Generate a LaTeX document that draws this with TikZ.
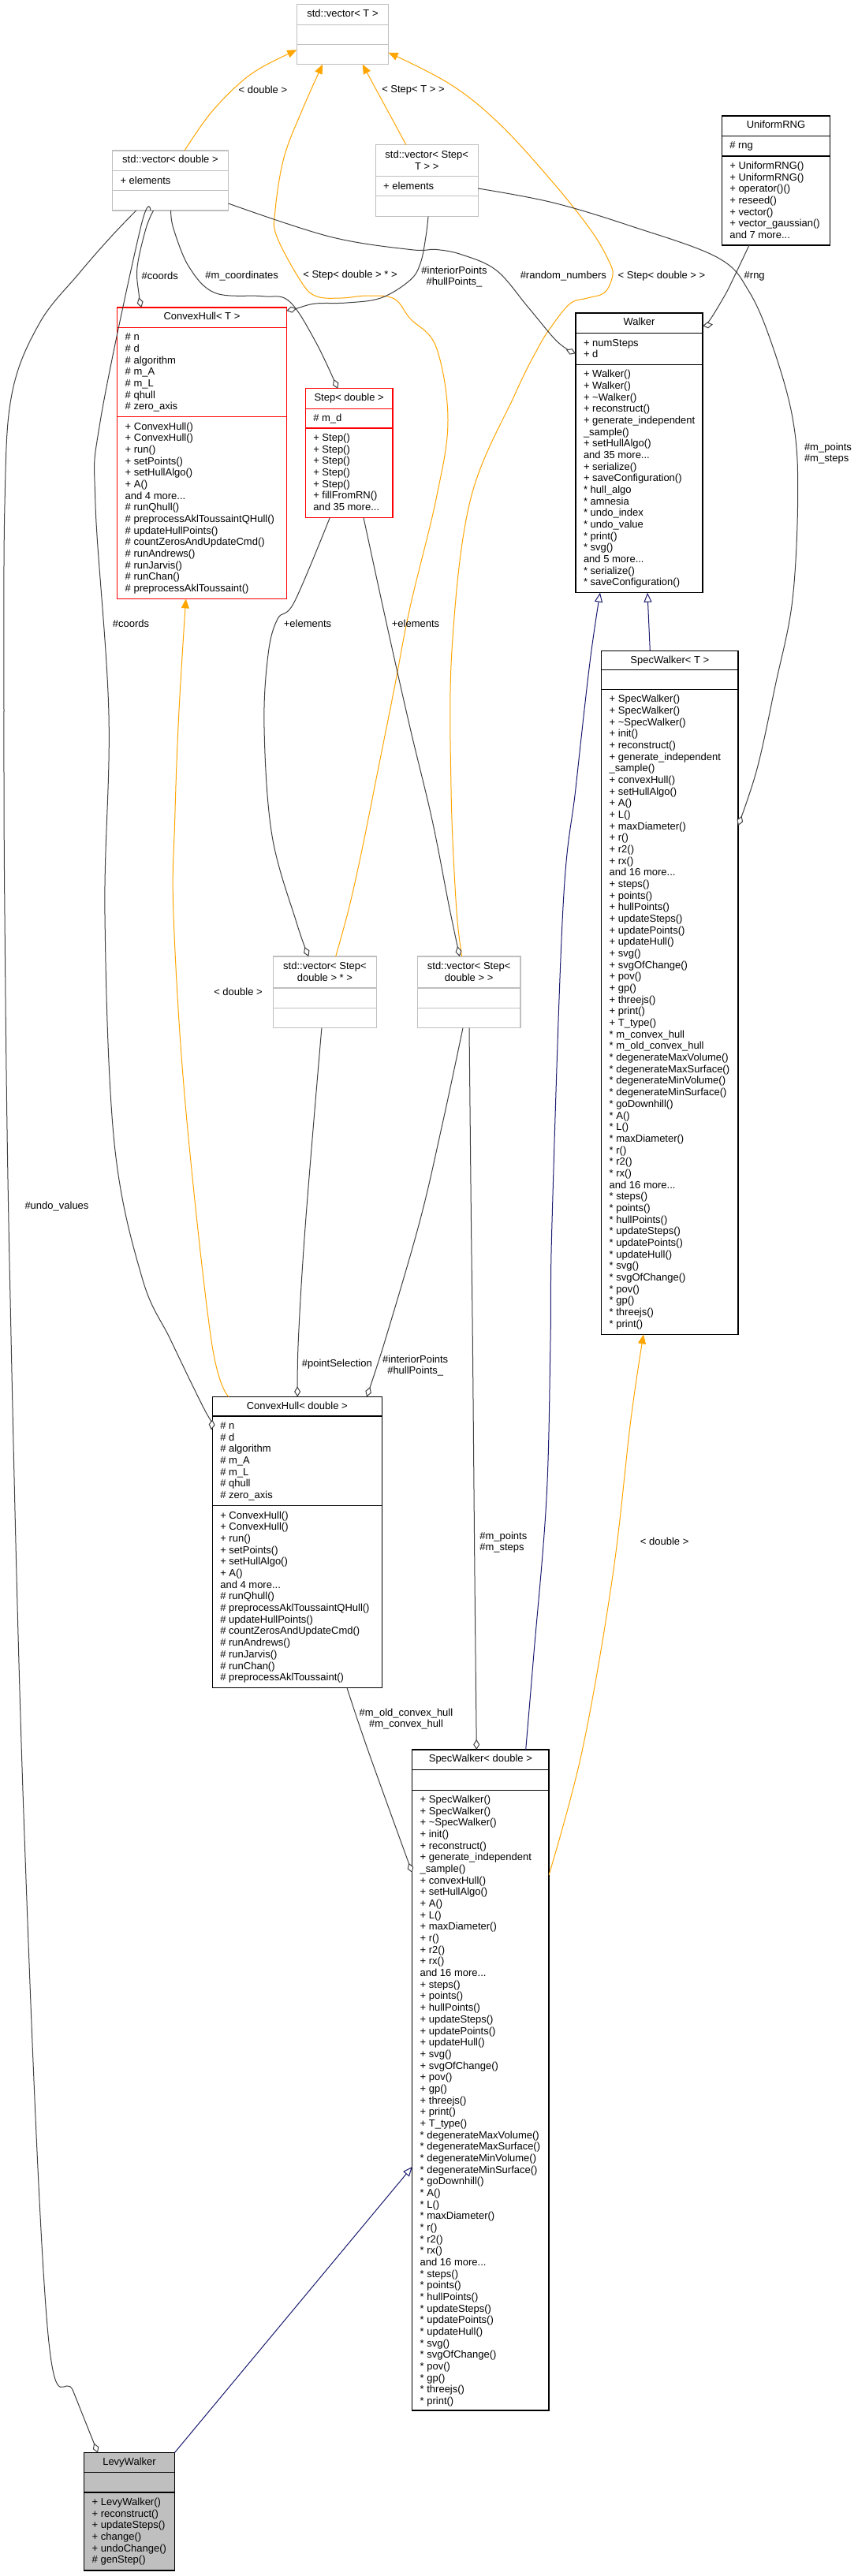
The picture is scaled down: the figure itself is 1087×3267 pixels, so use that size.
\documentclass[tikz,border=0pt]{standalone}
\usepackage{fontspec}
\setmainfont{Liberation Sans}
\usetikzlibrary{arrows.meta,calc}
\definecolor{clsgray}{HTML}{BFBFBF}
\definecolor{edgegray}{HTML}{404040}
\definecolor{inhblue}{HTML}{191970}
\definecolor{tplorange}{HTML}{FFA500}
\definecolor{clsred}{HTML}{FF0000}
% name, style, x1, y1, x2, y2, sepA, sepB
\newcommand\mkcls[8]{%
  \node[#2,anchor=north west,minimum width=#5pt-#3pt,minimum height=#6pt-#4pt] (#1) at (#3,#4) {};
  \draw[#2,fill=none] ($(#1.north west)+(0,#7)$) -- ($(#1.north east)+(0,#7)$);
  \draw[#2,fill=none] ($(#1.north west)+(0,#8)$) -- ($(#1.north east)+(0,#8)$);
  \coordinate (#1-a) at ($(#1.north west)+(10,#7+6.2)$);
  \coordinate (#1-m) at ($(#1.north west)+(10,#8+6.2)$);
  \coordinate (#1-h) at ($(#1.north)+(0,5.7)$);
}
\begin{document}
\begin{tikzpicture}[x=1pt,y=-1pt,
  boxk/.style={draw=black,line width=1.1pt,fill=white,inner sep=0pt,outer sep=0pt},
  boxg/.style={boxk,draw=clsgray},
  boxr/.style={boxk,draw=clsred},
  boxl/.style={boxk,fill=clsgray},
  txt/.style={font=\fontsize{13}{14.67}\selectfont,inner sep=0pt,outer sep=0pt},
  ttl/.style={txt,anchor=north,align=center},
  cell/.style={txt,anchor=north west,align=left},
  usage/.style={draw=edgegray,line width=1pt,-{Diamond[fill=white,length=13pt,width=8pt]}},
  inh/.style={draw=inhblue,line width=1pt,-{Triangle[fill=white,length=12pt,width=10pt]}},
  tpl/.style={draw=tplorange,line width=1pt,-{Triangle[length=12pt,width=10pt]}}]
\useasboundingbox (0,0) rectangle (1087,3267);
\fill[white] (0,0) rectangle (1087,3267);

% ---------------- classes ----------------
\mkcls{vecT}{boxg}{376.3}{5.7}{492.6}{81.7}{25.6}{51}
\node[ttl] (vecT-tt) at (vecT-h) {\strut std::vector< T >};

\mkcls{vecD}{boxg}{142.5}{191}{289.4}{267}{25.7}{50.7}
\node[ttl] (vecD-tt) at (vecD-h) {\strut std::vector< double >};
\node[cell] (vecD-at) at (vecD-a) {\strut + elements};

\mkcls{vecST}{boxg}{476.2}{183.7}{606.2}{274.7}{40}{65}
\node[ttl] (vecST-tt) at ($(vecST-h)+(0,1)$) {\strut std::vector< Step<\\T > >};
\node[cell] (vecST-at) at (vecST-a) {\strut + elements};

\mkcls{rng}{boxk}{915.3}{147}{1052.7}{311}{25.3}{51}
\node[ttl] (rng-tt) at (rng-h) {\strut UniformRNG};
\node[cell] (rng-at) at (rng-a) {\strut \# rng};
\node[cell] (rng-mt) at (rng-m) {\strut + UniformRNG()\\+ UniformRNG()\\+ operator()()\\+ reseed()\\+ vector()\\+ vector\_gaussian()\\and 7 more...};

\mkcls{chT}{boxr}{148.7}{390}{363.3}{759.4}{25.3}{138.8}
\node[ttl] (chT-tt) at (chT-h) {\strut ConvexHull< T >};
\node[cell] (chT-at) at (chT-a) {\strut \# n\\\# d\\\# algorithm\\\# m\_A\\\# m\_L\\\# qhull\\\# zero\_axis};
\node[cell] (chT-mt) at (chT-m) {\strut + ConvexHull()\\+ ConvexHull()\\+ run()\\+ setPoints()\\+ setHullAlgo()\\+ A()\\and 4 more...\\\# runQhull()\\\# preprocessAklToussaintQHull()\\\# updateHullPoints()\\\# countZerosAndUpdateCmd()\\\# runAndrews()\\\# runJarvis()\\\# runChan()\\\# preprocessAklToussaint()};

\mkcls{stepD}{boxr}{387.3}{492.9}{498}{656.5}{25.3}{50.1}
\node[ttl] (stepD-tt) at (stepD-h) {\strut Step< double >};
\node[cell] (stepD-at) at (stepD-a) {\strut \# m\_d};
\node[cell] (stepD-mt) at (stepD-m) {\strut + Step()\\+ Step()\\+ Step()\\+ Step()\\+ Step()\\+ fillFromRN()\\and 35 more...};

\mkcls{walker}{boxk}{730}{397}{891}{751.7}{25.7}{65.3}
\node[ttl] (walker-tt) at (walker-h) {\strut Walker};
\node[cell] (walker-at) at (walker-a) {\strut + numSteps\\+ d};
\node[cell] (walker-mt) at (walker-m) {\strut + Walker()\\+ Walker()\\+ \textasciitilde Walker()\\+ reconstruct()\\+ generate\_independent\\\_sample()\\+ setHullAlgo()\\and 35 more...\\+ serialize()\\+ saveConfiguration()\\{*} hull\_algo\\{*} amnesia\\{*} undo\_index\\{*} undo\_value\\{*} print()\\{*} svg()\\and 5 more...\\{*} serialize()\\{*} saveConfiguration()};

\mkcls{swT}{boxk}{762.7}{825.3}{936}{1692.3}{24.5}{49.1}
\node[ttl] (swT-tt) at (swT-h) {\strut SpecWalker< T >};
\node[cell] (swT-mt) at (swT-m) {\strut + SpecWalker()\\+ SpecWalker()\\+ \textasciitilde SpecWalker()\\+ init()\\+ reconstruct()\\+ generate\_independent\\\_sample()\\+ convexHull()\\+ setHullAlgo()\\+ A()\\+ L()\\+ maxDiameter()\\+ r()\\+ r2()\\+ rx()\\and 16 more...\\+ steps()\\+ points()\\+ hullPoints()\\+ updateSteps()\\+ updatePoints()\\+ updateHull()\\+ svg()\\+ svgOfChange()\\+ pov()\\+ gp()\\+ threejs()\\+ print()\\+ T\_type()\\{*} m\_convex\_hull\\{*} m\_old\_convex\_hull\\{*} degenerateMaxVolume()\\{*} degenerateMaxSurface()\\{*} degenerateMinVolume()\\{*} degenerateMinSurface()\\{*} goDownhill()\\{*} A()\\{*} L()\\{*} maxDiameter()\\{*} r()\\{*} r2()\\{*} rx()\\and 16 more...\\{*} steps()\\{*} points()\\{*} hullPoints()\\{*} updateSteps()\\{*} updatePoints()\\{*} updateHull()\\{*} svg()\\{*} svgOfChange()\\{*} pov()\\{*} gp()\\{*} threejs()\\{*} print()};

\mkcls{vecSDp}{boxg}{346.8}{1213}{477.1}{1303.7}{40}{65.3}
\node[ttl] (vecSDp-tt) at ($(vecSDp-h)+(0,1)$) {\strut std::vector< Step<\\double > * >};

\mkcls{vecSD}{boxg}{529.3}{1213}{660}{1303.7}{40}{65.3}
\node[ttl] (vecSD-tt) at ($(vecSD-h)+(0,1)$) {\strut std::vector< Step<\\double > >};

\mkcls{chD}{boxk}{269.3}{1771.4}{484.3}{2140.6}{24.6}{138.4}
\node[ttl] (chD-tt) at (chD-h) {\strut ConvexHull< double >};
\node[cell] (chD-at) at (chD-a) {\strut \# n\\\# d\\\# algorithm\\\# m\_A\\\# m\_L\\\# qhull\\\# zero\_axis};
\node[cell] (chD-mt) at (chD-m) {\strut + ConvexHull()\\+ ConvexHull()\\+ run()\\+ setPoints()\\+ setHullAlgo()\\+ A()\\and 4 more...\\\# runQhull()\\\# preprocessAklToussaintQHull()\\\# updateHullPoints()\\\# countZerosAndUpdateCmd()\\\# runAndrews()\\\# runJarvis()\\\# runChan()\\\# preprocessAklToussaint()};

\mkcls{swD}{boxk}{522.7}{2219}{696}{3057}{25.9}{51.1}
\node[ttl] (swD-tt) at (swD-h) {\strut SpecWalker< double >};
\node[cell] (swD-mt) at (swD-m) {\strut + SpecWalker()\\+ SpecWalker()\\+ \textasciitilde SpecWalker()\\+ init()\\+ reconstruct()\\+ generate\_independent\\\_sample()\\+ convexHull()\\+ setHullAlgo()\\+ A()\\+ L()\\+ maxDiameter()\\+ r()\\+ r2()\\+ rx()\\and 16 more...\\+ steps()\\+ points()\\+ hullPoints()\\+ updateSteps()\\+ updatePoints()\\+ updateHull()\\+ svg()\\+ svgOfChange()\\+ pov()\\+ gp()\\+ threejs()\\+ print()\\+ T\_type()\\{*} degenerateMaxVolume()\\{*} degenerateMaxSurface()\\{*} degenerateMinVolume()\\{*} degenerateMinSurface()\\{*} goDownhill()\\{*} A()\\{*} L()\\{*} maxDiameter()\\{*} r()\\{*} r2()\\{*} rx()\\and 16 more...\\{*} steps()\\{*} points()\\{*} hullPoints()\\{*} updateSteps()\\{*} updatePoints()\\{*} updateHull()\\{*} svg()\\{*} svgOfChange()\\{*} pov()\\{*} gp()\\{*} threejs()\\{*} print()};

\mkcls{levy}{boxl}{106.7}{3110.7}{221.3}{3260}{24.6}{50.3}
\node[ttl] (levy-tt) at (levy-h) {\strut LevyWalker};
\node[cell] (levy-mt) at (levy-m) {\strut + LevyWalker()\\+ reconstruct()\\+ updateSteps()\\+ change()\\+ undoChange()\\\# genStep()};

% ---------------- ports ----------------
\coordinate (vecD-top) at ($(vecD.north west)+(91.5,0)$);
\coordinate (vecD-r)   at ($(vecD.north west)+(146.9,67)$);
\coordinate (vecD-b1)  at ($(vecD.north west)+(30.2,76)$);
\coordinate (vecD-b2)  at ($(vecD.north west)+(48.5,76)$);
\coordinate (vecD-b3)  at ($(vecD.north west)+(52,76)$);
\coordinate (vecD-b4)  at ($(vecD.north west)+(74.2,76)$);
\coordinate (vecT-l)   at ($(vecT.north west)+(0,57.6)$);
\coordinate (vecT-b1)  at ($(vecT.north west)+(32.7,76)$);
\coordinate (vecT-b2)  at ($(vecT.north west)+(83.4,76)$);
\coordinate (vecT-r)   at ($(vecT.north west)+(116.3,61)$);
\coordinate (vecST-t)  at ($(vecST.north west)+(38.8,0)$);
\coordinate (vecST-b)  at ($(vecST.north west)+(66.8,91)$);
\coordinate (vecST-r)  at ($(vecST.north west)+(130,55.3)$);
\coordinate (rng-b)    at ($(rng.north west)+(34.7,164)$);
\coordinate (chT-t)    at ($(chT.north west)+(30.6,0)$);
\coordinate (chT-r)    at ($(chT.north west)+(214.6,4)$);
\coordinate (chT-b)    at ($(chT.north west)+(87,369.4)$);
\coordinate (stepD-t)  at ($(stepD.north west)+(41,0)$);
\coordinate (stepD-b1) at ($(stepD.north west)+(31,163.6)$);
\coordinate (stepD-b2) at ($(stepD.north west)+(73.7,163.6)$);
\coordinate (walker-l) at ($(walker.north west)+(0,51.3)$);
\coordinate (walker-r) at ($(walker.north west)+(161,16.3)$);
\coordinate (walker-b1) at ($(walker.north west)+(31,354.7)$);
\coordinate (walker-b2) at ($(walker.north west)+(91,354.7)$);
\coordinate (swT-t)    at ($(swT.north west)+(61.6,0)$);
\coordinate (swT-r)    at ($(swT.north west)+(173.3,221.7)$);
\coordinate (swT-b)    at ($(swT.north west)+(53.3,867)$);
\coordinate (vecSDp-t1) at ($(vecSDp.north west)+(44.6,0)$);
\coordinate (vecSDp-t2) at ($(vecSDp.north west)+(78.9,0)$);
\coordinate (vecSDp-b)  at ($(vecSDp.north west)+(61.1,90.7)$);
\coordinate (vecSD-t1) at ($(vecSD.north west)+(53.6,0)$);
\coordinate (vecSD-t2) at ($(vecSD.north west)+(56.4,0)$);
\coordinate (vecSD-b1) at ($(vecSD.north west)+(57.7,90.7)$);
\coordinate (vecSD-b2) at ($(vecSD.north west)+(65.7,90.7)$);
\coordinate (chD-t1)   at ($(chD.north west)+(20.7,0)$);
\coordinate (chD-t2)   at ($(chD.north west)+(108,0)$);
\coordinate (chD-t3)   at ($(chD.north west)+(195.7,0)$);
\coordinate (chD-l)    at ($(chD.north west)+(0,29)$);
\coordinate (chD-b)    at ($(chD.north west)+(170.7,369.2)$);
\coordinate (swD-t1)   at ($(swD.north west)+(81.6,0)$);
\coordinate (swD-t2)   at ($(swD.north west)+(144,0)$);
\coordinate (swD-l1)   at ($(swD.north west)+(0,156)$);
\coordinate (swD-l2)   at ($(swD.north west)+(0,529)$);
\coordinate (swD-r)    at ($(swD.north west)+(173.3,159)$);
\coordinate (levy-t)   at ($(levy.north west)+(17.3,0)$);

% ---------------- template edges ----------------
\draw[tpl] plot[smooth,tension=0.6] coordinates {(vecD-top) (264.5,146.7) (299,110) (329.6,86.7) (vecT-l)};
\draw[tpl] plot[smooth,tension=0.6] coordinates {(vecSDp-t2) (442.9,1150) (460,1073) (480,973) (500,873) (520,770) (553,633) (568,533) (553,440) (520,404) (500,379) (467,375) (433,378) (402,376) (383,359) (351,300) (349,266.7) (360,200) (383,140) (vecT-b1)};
\draw[tpl] (vecST-t) -- (vecT-b2);
\draw[tpl] plot[smooth,tension=0.6] coordinates {(vecSD-t2) (578.6,1150) (572,1000) (573.3,820) (596.7,633) (653,500) (683,440) (700,413) (723,385) (745,378) (766.7,371) (776.7,350) (773,333) (750,293) (700,230) (633,156.7) (570.7,106.7) (vecT-r)};
\draw[tpl] plot[smooth,tension=0.6] coordinates {(chD-t1) (268,1700) (235,1400) (220,1160) (221.7,1040) (226.7,906.7) (chT-b)};
\draw[tpl] plot[smooth,tension=0.6] coordinates {(swD-r) (738.3,2220) (776.7,2000) (800,1800) (swT-b)};

% ---------------- inheritance edges ----------------
\draw[inh] (swT-t) -- (walker-b2);
\draw[inh] plot[smooth,tension=0.6] coordinates {(swD-t2) (676.7,2100) (693,1900) (698,1700) (700,1550) (714,1150) (730,1000) (748,840) (walker-b1)};
\draw[inh] (levy.north east) -- (swD-l2);

% ---------------- usage edges ----------------
\draw[usage] plot[smooth,tension=0.6] coordinates {(vecD-b1) (141,300) (100,347) (50,410) (15,500) (6,640) (5,900) (6,1160) (12,1600) (30,2300) (60,2950) (93,3033) (levy-t)};
\draw[usage] plot[smooth,tension=0.6] coordinates {(vecD-b3) (185,290) (174,339) (176,372) (chT-t)};
\draw[usage] plot[smooth,tension=0.6] coordinates {(vecD-b2) (178,290) (127,535) (121,640) (138,907) (133,1160) (145,1450) (180,1620) (216.7,1700) (260,1789) (chD-l)};
\draw[usage] plot[smooth,tension=0.6] coordinates {(vecD-b4) (220,290) (240,339) (273,371.6) (333,375.7) (366.7,382) (400,433) (stepD-t)};
\draw[usage] plot[smooth,tension=0.6] coordinates {(vecD-r) (417.6,300) (520,316.5) (553.3,316.5) (586.7,323.3) (630,343.3) (670,390) (706.7,433.3) (walker-l)};
\draw[usage] plot[smooth,tension=0.6] coordinates {(vecST-b) (540,300) (533.3,333.3) (520,355.3) (483.3,377.8) (440,384) (400,385) (376.7,391) (chT-r)};
\draw[usage] plot[smooth,tension=0.6] coordinates {(rng-b) (930,353) (920,373) (900,406) (walker-r)};
\draw[usage] plot[smooth,tension=0.6] coordinates {(vecST-r) (700,256.7) (800,286.7) (910,326.7) (950,370) (980,440) (1005,530) (1011.7,620) (1005,760) (983,870) (960,975) (swT-r)};
\draw[usage] plot[smooth,tension=0.6] coordinates {(stepD-b1) (373.3,763.3) (352,785) (340,830) (335,923) (345,1060) (376,1170) (vecSDp-t1)};
\draw[usage] plot[smooth,tension=0.6] coordinates {(stepD-b2) (490,790) (520,923) (548,1040) (569.6,1150) (vecSD-t1)};
\draw[usage] plot[smooth,tension=0.6] coordinates {(vecSDp-b) (387.5,1550) (378.3,1700) (chD-t2)};
\draw[usage] plot[smooth,tension=0.6] coordinates {(vecSD-b1) (560,1430) (532,1550) (488.3,1700) (chD-t3)};
\draw[usage] plot[smooth,tension=0.6] coordinates {(vecSD-b2) (597.5,1550) (599.3,1700) (602,2000) (swD-t1)};
\draw[usage] plot[smooth,tension=0.6] coordinates {(chD-b) (466.7,2220) (swD-l1)};

% ---------------- edge labels ----------------
\node[txt] (l-dbl1) at (333.4,114) {< double >};
\node[txt] (l-stepT) at (524,114) {< Step< T > >};
\node[txt] (l-coords1) at (202.7,349.6) {\#coords};
\node[txt] (l-mcoord) at (306.7,349.6) {\#m\_coordinates};
\node[txt] (l-stepdp) at (444,349.6) {< Step< double > * >};
\node[txt,align=center] (l-int1) at (576,351) {\#interiorPoints\\\#hullPoints\_};
\node[txt] (l-rand) at (714.3,349.7) {\#random\_numbers};
\node[txt] (l-stepd) at (839,350) {< Step< double > >};
\node[txt] (l-rng) at (956.7,350) {\#rng};
\node[txt,align=left,anchor=west] (l-mp1) at (1020,575) {\#m\_points\\\#m\_steps};
\node[txt] (l-el1) at (390,791) {+elements};
\node[txt] (l-el2) at (527,791) {+elements};
\node[txt] (l-coords2) at (166,791) {\#coords};
\node[txt] (l-dbl2) at (302,1258) {< double >};
\node[txt] (l-undo) at (72,1530) {\#undo\_values};
\node[txt] (l-psel) at (427.3,1730.4) {\#pointSelection};
\node[txt,align=center] (l-int2) at (526.7,1732) {\#interiorPoints\\\#hullPoints\_};
\node[txt,align=left,anchor=west] (l-mp2) at (608.3,1956) {\#m\_points\\\#m\_steps};
\node[txt] (l-dbl3) at (842.7,1955) {< double >};
\node[txt,align=center] (l-old) at (515,2180) {\#m\_old\_convex\_hull\\\#m\_convex\_hull};
\end{tikzpicture}
\end{document}
